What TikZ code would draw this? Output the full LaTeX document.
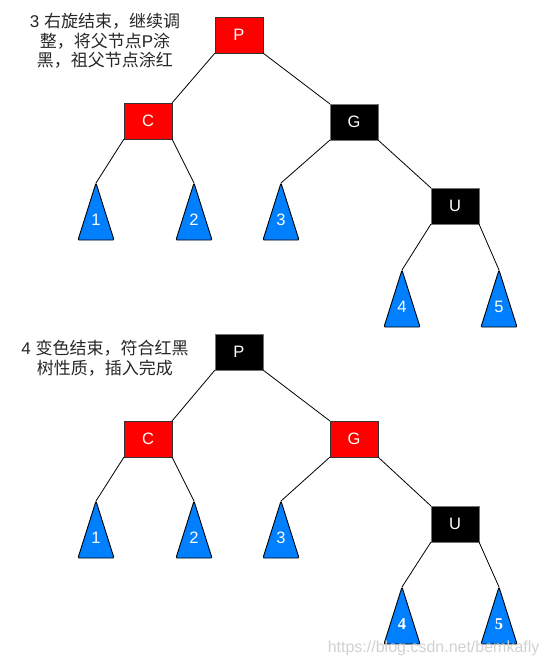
\documentclass[tikz,border=0pt]{standalone}
\usepackage{fontspec}
\setmainfont{Liberation Sans}
\newfontfamily\cjk{Noto Sans CJK SC}
\newfontfamily\numserif{Liberation Serif}
\usetikzlibrary{shapes.geometric}
\definecolor{treeblue}{RGB}{0,128,255}
\definecolor{nodered}{RGB}{255,0,0}

\begin{document}
\begin{tikzpicture}[x=1pt,y=-1pt]
	\tikzstyle{redbox}=[rectangle,draw=black!80,fill=nodered,text=white,minimum width=48pt,minimum height=36pt,inner sep=0pt,outer sep=0pt,font=\fontsize{16.5}{16}\selectfont]
	\tikzstyle{blackbox}=[redbox,fill=black,draw=black!55]
	\tikzstyle{subtree}=[isosceles triangle,shape border rotate=90,isosceles triangle stretches,minimum width=36pt,minimum height=57pt,inner sep=0pt,outer sep=0pt,anchor=apex,draw=black,line width=0.9pt,fill=treeblue,text=white,text depth=9pt,rounded corners=1pt,font=\fontsize{16.5}{16}\selectfont]
	\tikzstyle{edge}=[draw, line width=0.8pt]
	\tikzstyle{caption}=[align=center,inner sep=0pt,text=black!85,font=\fontsize{17}{19.5}\selectfont]
	\useasboundingbox (0,0) rectangle (551,665);
	% tree after the right rotation
	\begin{scope}
		\node [caption] (note1) at (105,41) {3 {\cjk 右旋结束，继续调}\\{\cjk 整，将父节点}P{\cjk 涂}\\{\cjk 黑，祖父节点涂红}};
		\node [redbox] (p1) at (239,35) {P};
		\node [redbox] (c1) at (148,121) {C};
		\node [blackbox] (g1) at (354,122) {G};
		\node [blackbox] (u1) at (455,206) {U};
		\node [subtree] (t11) at (96,183) {1};
		\node [subtree] (t12) at (194,183) {2};
		\node [subtree] (t13) at (281,183) {3};
		\node [subtree] (t14) at (402,270) {4};
		\node [subtree] (t15) at (499,270) {5};
		\path[edge] (p1.south west) edge (c1.north east);
		\path[edge] (p1.south east) edge (g1.north west);
		\path[edge] (c1.south west) edge (t11.apex);
		\path[edge] (c1.south east) edge (t12.apex);
		\path[edge] (g1.south west) edge (t13.apex);
		\path[edge] (g1.south east) edge (u1.north west);
		\path[edge] (u1.south west) edge (t14.apex);
		\path[edge] (u1.south east) edge (t15.apex);
	\end{scope}
	% tree after recolouring
	\begin{scope}
		\node [caption] (note2) at (105,358) {4 {\cjk 变色结束，符合红黑}\\{\cjk 树性质，插入完成}};
		\node [blackbox] (p2) at (239,352) {P};
		\node [redbox] (c2) at (148,439) {C};
		\node [redbox] (g2) at (354,439) {G};
		\node [blackbox] (u2) at (455,524) {U};
		\node [subtree] (t21) at (96,501) {1};
		\node [subtree] (t22) at (194,501) {2};
		\node [subtree] (t23) at (281,501) {3};
		\node [subtree,font=\fontsize{16.5}{16}\numserif\bfseries] (t24) at (402,587) {4};
		\node [subtree,font=\fontsize{16.5}{16}\numserif\bfseries] (t25) at (499,587) {5};
		\path[edge] (p2.south west) edge (c2.north east);
		\path[edge] (p2.south east) edge (g2.north west);
		\path[edge] (c2.south west) edge (t21.apex);
		\path[edge] (c2.south east) edge (t22.apex);
		\path[edge] (g2.south west) edge (t23.apex);
		\path[edge] (g2.south east) edge (u2.north west);
		\path[edge] (u2.south west) edge (t24.apex);
		\path[edge] (u2.south east) edge (t25.apex);
	\end{scope}
	\node [anchor=east,text=black!18,font=\fontsize{16}{16}\selectfont] (mark) at (543,648) {https://blog.csdn.net/bemkafly};
\end{tikzpicture}
\end{document}
